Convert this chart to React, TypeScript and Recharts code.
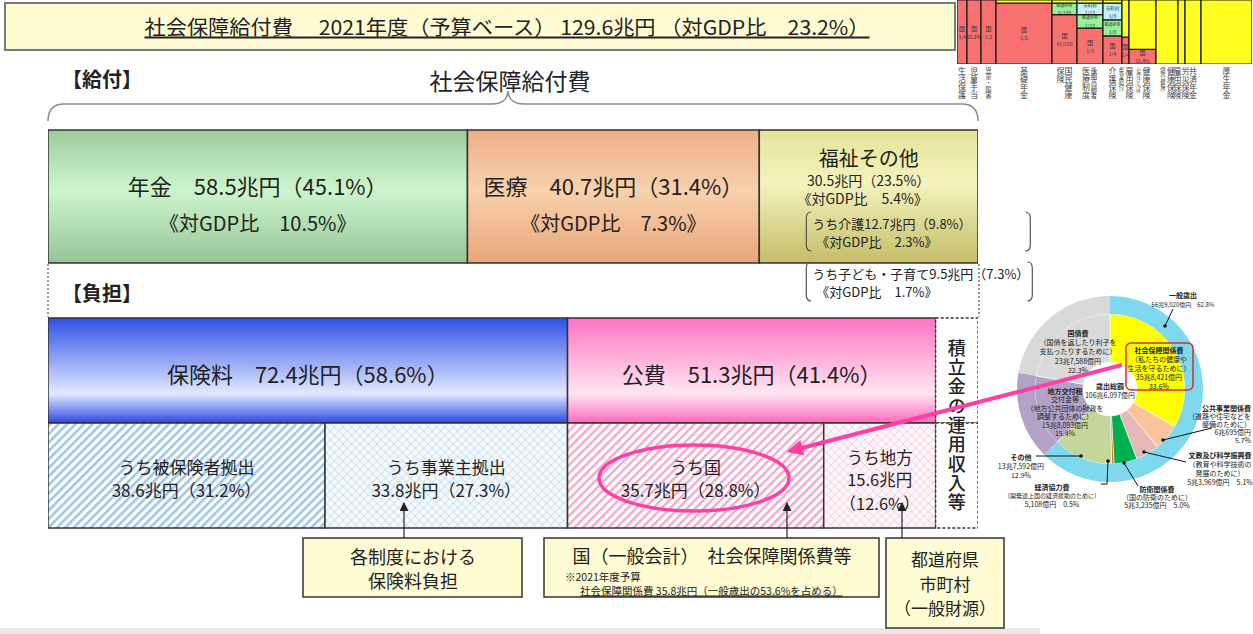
import React from 'react';
import {
  BarChart, Bar, XAxis, YAxis, LabelList, PieChart, Pie, Cell,
  ComposedChart, ReferenceArea, Line,
} from 'recharts';

const FONT = '"Noto Sans CJK JP","Noto Sans",sans-serif';

// ---------- data: benefits ----------
const benefitNames = ['年金', '医療', '福祉その他'];
const benefitValues = [58.5, 40.7, 30.5];
const benefitShares = [45.1, 31.4, 23.5];
const benefitGdp = [10.5, 7.3, 5.4];
const welfareSubNames = ['うち介護', 'うち子ども・子育て'];
const welfareSubValues = [12.7, 9.5];
const welfareSubShares = [9.8, 7.3];
const welfareSubGdp = [2.3, 1.7];

// ---------- data: burden ----------
const burdenNames = ['保険料', '公費'];
const burdenValues = [72.4, 51.3];
const burdenShares = [58.6, 41.4];
const subNames = ['うち被保険者拠出', 'うち事業主拠出', 'うち国', 'うち地方'];
const subValues = [38.6, 33.8, 35.7, 15.6];
const subShares = [31.2, 27.3, 28.8, 12.6];
const reserveName = '積立金の運用収入等';
const reserveValue = 5.9;

// ---------- data: national budget donut ----------
const budgetNames = ['社会保障関係費', '公共事業関係費', '文教及び科学振興費', '防衛関係費', '経済協力費', 'その他', '地方交付税交付金等', '国債費'];
const budgetShares = [33.6, 5.7, 5.1, 5.0, 0.5, 12.9, 15.4, 22.3];
const outerNames = ['一般歳出', '地方交付税交付金等', '国債費'];
const outerShares = [62.8, 15.4, 22.3];

// ---------- data: system fragment (top right) ----------
const fragNames = ['生活保護', '児童手当', '児童・障害', '基礎年金', '国民健康|保険', '後期高齢者|医療制度', '介護保険', '雇用保険|(失業給付)', '健康保険|(協会けんぽ)', '健康保険|(組合健保)', '労災保険|雇用保険', '共済年金', '厚生年金'];
const fragWeights = [10, 14, 15, 56, 25, 26, 19, 7, 27, 22, 7, 16, 51];
const fragNational = [1, 1, 1, 0.95, 0.77, 0.56, 0.44, 0.42, 0.23, 0, 0, 0, 0];
const fragPrefecture = [0, 0, 0, 0, 0.18, 0.21, 0.25, 0, 0, 0, 0, 0, 0];
const fragMunicipal = [0, 0, 0, 0, 0, 0.18, 0.26, 0, 0, 0, 0, 0, 0];
const fragPremium = [0, 0, 0, 0.05, 0.05, 0.05, 0.05, 0.58, 0.77, 1, 1, 1, 1];
const fragNationalText = ['3/4', '50.2%', '1/2', '1/2', '41/100', '1/3', '1/4', '1/4', '16.4%', '', '', '', ''];
const fragPrefText = ['', '', '', '', '9/100', '1/12', '1/8', '', '', '', '', '', ''];
const fragMuniText = ['', '', '', '', '', '1/12', '1/8', '', '', '', '', '', ''];

// ---------- styles ----------
const benefitFills = ['url(#gNenkin)', 'url(#gIryo)', 'url(#gFukushi)'];
const burdenFills = ['url(#gHoken)', 'url(#gKohi)'];
const subFills = ['url(#pStripeBlue)', 'url(#pCrossBlue)', 'url(#pStripePink)', 'url(#pCrossPink)'];
const budgetColors = ['#ffff00', '#f9c49a', '#e6b9b8', '#00b050', '#e46c0a', '#c4d79b', '#b3a2c7', '#d9d9d9'];
const outerColors = ['#7fd9ee', '#b3a2c7', '#d9d9d9'];

const sum = (a: number[]) => a.reduce((s, v) => s + v, 0);
const benefitTotal = sum(benefitValues);
const burdenTotal = sum(burdenValues) + reserveValue;

const benefitData = [
  Object.fromEntries([['row', '給付'], ...benefitNames.map((n, i) => [n, benefitValues[i]])]),
];
const burdenData = [
  Object.fromEntries([['row', '負担'], ...burdenNames.map((n, i) => [n, burdenValues[i]]), [reserveName, reserveValue]]),
  Object.fromEntries([['row', '内訳'], ...subNames.map((n, i) => [n, subValues[i]]), [reserveName, reserveValue]]),
];
const budgetData = budgetNames.map((n, i) => ({ name: n, value: budgetShares[i] }));
const outerData = outerNames.map((n, i) => ({ name: n, value: outerShares[i] }));

const fragStarts: number[] = [];
fragWeights.reduce((acc, w) => { fragStarts.push(acc); return acc + w; }, 0);
const fragTotal = sum(fragWeights);
const fragData = fragNames.map((n, i) => ({ x: fragStarts[i] + fragWeights[i] / 2, y: 0 }));

const box = (p: any) => {
  const vb = p && p.viewBox && p.viewBox.width !== undefined ? p.viewBox : p;
  return { x: Number(vb.x), y: Number(vb.y), w: Number(vb.width), h: Number(vb.height) };
};

const T = (props: any) => (
  <text fontFamily={FONT} fill="#222" dominantBaseline="central" textAnchor="middle" {...props} />
);

// one <text> holding several lines (tspans), first line centred at y, next lines at dy steps
const ML = ({ x, y, lines, steps, ...rest }: any) => (
  <text fontFamily={FONT} fill="#222" dominantBaseline="central" textAnchor="middle" {...rest}>
    {lines.map((ln: string, k: number) => (
      <tspan key={k} x={x} y={y + (k === 0 ? 0 : steps.slice(0, k).reduce((a: number, b: number) => a + b, 0))}>{ln}</tspan>
    ))}
  </text>
);

const bracketL = (x: number, y1: number, y2: number) =>
  `M${x + 5},${y1} Q${x},${y1} ${x},${y1 + 6} L${x},${y2 - 6} Q${x},${y2} ${x + 5},${y2}`;
const bracketR = (x: number, y1: number, y2: number) =>
  `M${x - 5},${y1} Q${x},${y1} ${x},${y1 + 6} L${x},${y2 - 6} Q${x},${y2} ${x - 5},${y2}`;

const benefitLabel = (i: number) => (p: any) => {
  const { x, y, w } = box(p);
  if (!(w > 1)) return null;
  const cx = x + w / 2;
  if (i < 2) {
    return (
      <g>
        <T x={cx} y={y + 55} fontSize={22}>{`${benefitNames[i]}　${benefitValues[i]}兆円（${benefitShares[i]}%）`}</T>
        <T x={cx} y={y + 92} fontSize={20}>{`《対GDP比　${benefitGdp[i]}%》`}</T>
      </g>
    );
  }
  const bx = x + 47;
  return (
    <g>
      <T x={cx} y={y + 27} fontSize={20}>{benefitNames[i]}</T>
      <T x={cx} y={y + 50} fontSize={14}>{`${benefitValues[i]}兆円（${benefitShares[i]}%）`}</T>
      <T x={cx - 6} y={y + 68} fontSize={14}>{`《対GDP比　${benefitGdp[i]}%》`}</T>
      {welfareSubNames.map((n, k) => {
        const y1 = y + 82 + k * 50;
        return (
          <g key={n}>
            <path d={bracketL(bx, y1, y1 + 39)} stroke="#555" strokeWidth={1.2} fill="none" />
            <path d={bracketR(x + 271 + k * 2, y1, y1 + 39)} stroke="#555" strokeWidth={1.2} fill="none" />
            <T x={bx + 6} y={y1 + 11} fontSize={13} textAnchor="start">{`${n}${welfareSubValues[k]}兆円（${welfareSubShares[k]}%）`}</T>
            <T x={bx + 10} y={y1 + 29} fontSize={13} textAnchor="start">{`《対GDP比　${welfareSubGdp[k]}%》`}</T>
          </g>
        );
      })}
    </g>
  );
};

const burdenLabel = (i: number) => (p: any) => {
  const { x, y, w, h } = box(p);
  if (!(w > 1)) return null;
  return <T x={x + w / 2} y={y + h / 2 + 2} fontSize={22}>{`${burdenNames[i]}　${burdenValues[i]}兆円（${burdenShares[i]}%）`}</T>;
};

const subLabel = (i: number) => (p: any) => {
  const { x, y, w, h } = box(p);
  if (!(w > 1)) return null;
  const cx = x + w / 2;
  const cy = y + h / 2;
  if (i < 3) {
    return (
      <ML x={cx} y={cy - 10} steps={[23]} fontSize={17}
        lines={[subNames[i], `${subValues[i]}兆円（${subShares[i]}%）`]} />
    );
  }
  return (
    <ML x={cx} y={cy - 19} steps={[22, 24]} fontSize={16.5}
      lines={[subNames[i], `${subValues[i]}兆円`, `（${subShares[i]}%）`]} />
  );
};

const reserveLabel = (p: any) => {
  const { x, y, w } = box(p);
  if (!(w > 1) || y > 60) return null;
  return (
    <text x={x + w / 2} y={y + 21} fontFamily={FONT} fill="#222" fontSize={18} fontWeight={500}
      writingMode="vertical-rl" letterSpacing={1.3} textAnchor="start">{reserveName}</text>
  );
};

const colLabel = (text: string) => (p: any) => {
  const vb = p.viewBox;
  if (!vb) return null;
  const cols = text.split('|');
  const cx = vb.x + vb.width / 2;
  const top = vb.y + vb.height + 3;
  const n = cols.length;
  return (
    <g>
      {cols.map((c, ci) => {
        const len = Array.from(c).length;
        const fs = Math.min(8, 32 / len);
        const xx = cx + ((n - 1) / 2 - ci) * 8;
        return (
          <text key={ci} x={xx} y={top} fontFamily={FONT} fill="#444" fontSize={fs}
            writingMode="vertical-rl" textAnchor="start">{c}</text>
        );
      })}
    </g>
  );
};
const cellLabel = (title: string, frac: string, size: number) => (p: any) => {
  const vb = p.viewBox;
  if (!vb || !frac) return null;
  const cx = vb.x + vb.width / 2;
  const cy = vb.y + vb.height / 2;
  return (
    <g>
      <T x={cx} y={cy - 4} fontSize={size} fill="#333">{title}</T>
      <T x={cx} y={cy + 4} fontSize={5} fill="#333">{frac}</T>
    </g>
  );
};

const pieNotes = [
  { x: 1183, y: 295, step: 9, a: 'middle', lines: ['一般歳出', '66兆9,020億円　62.8%'] },
  { x: 1078, y: 333, step: 9.2, a: 'middle', lines: ['国債費', '（国債を返したり利子を', '支払ったりするために）', '23兆7,588億円', '22.3%'] },
  { x: 1159, y: 350, step: 9, a: 'middle', lines: ['社会保障関係費', '（私たちの健康や', '生活を守るために）', '35兆8,421億円', '33.6%'] },
  { x: 1110, y: 386, step: 9, a: 'middle', lines: ['歳出総額', '106兆6,097億円'] },
  { x: 1065, y: 391, step: 8.4, a: 'middle', lines: ['地方交付税', '交付金等', '（地方公共団体の財政を', '調整するために）', '15兆8,093億円', '15.4%'] },
  { x: 1251, y: 408, step: 8, a: 'end', lines: ['公共事業関係費', '（道路や住宅などを', '整備のために）', '6兆695億円', '5.7%'] },
  { x: 1220, y: 455, step: 9, a: 'middle', lines: ['文教及び科学振興費', '（教育や科学技術の', '発展のために）', '5兆3,969億円　5.1%'] },
  { x: 1021, y: 457, step: 9, a: 'middle', lines: ['その他', '13兆7,592億円', '12.9%'] },
  { x: 1052, y: 487, step: 8.5, a: 'middle', lines: ['経済協力費', '（開発途上国の経済援助のために）', '5,108億円　0.5%'] },
  { x: 1157, y: 489, step: 8, a: 'middle', lines: ['防衛関係費', '（国の防衛のために）', '5兆3,235億円　5.0%'] },
];
const pieLeaders = [
  [[1173, 309], [1165, 326]],
  [[1212, 428], [1163, 440]],
  [[1186, 462], [1144, 452]],
  [[1138, 486], [1124, 463]],
  [[1101, 484], [1107, 484], [1108, 461]],
  [[1036, 456], [1081, 456]],
];

export default function App() {
  return (
    <div style={{ position: 'absolute', left: 0, top: 0, width: 1253, height: 634, overflow: 'hidden', background: '#fff', fontFamily: FONT }}>
      <svg width={0} height={0} style={{ position: 'absolute' }}>
        <defs>
          <linearGradient id="gNenkin" x1="0" y1="0" x2="0" y2="1">
            <stop offset="0" stopColor="#9dcc9d" />
            <stop offset="0.45" stopColor="#cdf5cd" />
            <stop offset="1" stopColor="#96c596" />
          </linearGradient>
          <linearGradient id="gIryo" x1="0" y1="0" x2="0" y2="1">
            <stop offset="0" stopColor="#ecaf86" />
            <stop offset="0.45" stopColor="#f8d1ad" />
            <stop offset="1" stopColor="#e8a67a" />
          </linearGradient>
          <linearGradient id="gFukushi" x1="0" y1="0" x2="0" y2="1">
            <stop offset="0" stopColor="#e4e496" />
            <stop offset="0.4" stopColor="#f3f3bd" />
            <stop offset="1" stopColor="#c5bd68" />
          </linearGradient>
          <linearGradient id="gHoken" x1="0" y1="0" x2="0" y2="1">
            <stop offset="0" stopColor="#2f4fe6" />
            <stop offset="0.72" stopColor="#e2eaff" />
            <stop offset="1" stopColor="#2c48e2" />
          </linearGradient>
          <linearGradient id="gKohi" x1="0" y1="0" x2="0" y2="1">
            <stop offset="0" stopColor="#ff74c2" />
            <stop offset="0.72" stopColor="#ffe6f3" />
            <stop offset="1" stopColor="#ff69ba" />
          </linearGradient>
          <pattern id="pStripeBlue" width="6" height="6" patternUnits="userSpaceOnUse" patternTransform="rotate(45)">
            <rect width="6" height="6" fill="#ffffff" />
            <rect width="2.6" height="6" fill="#9ec6e6" />
          </pattern>
          <pattern id="pCrossBlue" width="6" height="6" patternUnits="userSpaceOnUse" patternTransform="rotate(45)">
            <rect width="6" height="6" fill="#f5fafe" />
            <path d="M0,0 L6,0 M0,0 L0,6" stroke="#a6c9e5" strokeWidth="0.9" />
          </pattern>
          <pattern id="pStripePink" width="6" height="6" patternUnits="userSpaceOnUse" patternTransform="rotate(45)">
            <rect width="6" height="6" fill="#ffffff" />
            <rect width="2.4" height="6" fill="#f3a7c9" />
          </pattern>
          <pattern id="pCrossPink" width="6" height="6" patternUnits="userSpaceOnUse" patternTransform="rotate(45)">
            <rect width="6" height="6" fill="#fff7fb" />
            <path d="M0,0 L6,0 M0,0 L0,6" stroke="#efb2cb" strokeWidth="0.9" />
          </pattern>
          <marker id="arrK" viewBox="0 0 10 10" refX="9" refY="5" markerWidth="9" markerHeight="9" markerUnits="userSpaceOnUse" orient="auto">
            <path d="M0,0 L10,5 L0,10 z" fill="#222" />
          </marker>
          <marker id="arrM" viewBox="0 0 10 10" refX="8" refY="5" markerWidth="20" markerHeight="16" markerUnits="userSpaceOnUse" orient="auto">
            <path d="M0,0 L10,5 L0,10 z" fill="#ff3fa4" />
          </marker>
        </defs>
      </svg>

      {/* fragment of the system chart (top right) */}
      <div style={{ position: 'absolute', left: 957, top: 0 }}>
        <ComposedChart width={296} height={104} data={fragData} margin={{ top: 0, right: 1, bottom: 40, left: 0 }}>
          <XAxis type="number" dataKey="x" domain={[0, fragTotal]} hide allowDataOverflow />
          <YAxis type="number" domain={[0, 1]} hide allowDataOverflow />
          <Line dataKey="y" stroke="none" dot={false} isAnimationActive={false} />
          {fragNames.map((n, i) => {
            const x1 = fragStarts[i];
            const x2 = x1 + fragWeights[i];
            const segs = [
              { v: fragNational[i], c: '#f87171', t: '国', f: fragNationalText[i], s: 6 },
              { v: fragPrefecture[i], c: '#98f09a', t: '都道府県', f: fragPrefText[i], s: 4 },
              { v: fragMunicipal[i], c: '#c4f0f8', t: '市町村', f: fragMuniText[i], s: 4.5 },
              { v: fragPremium[i], c: '#ffff22', t: '', f: '', s: 4 },
            ];
            let acc = 0;
            const els: any[] = [];
            segs.forEach((sg, k) => {
              if (sg.v > 0) {
                els.push(
                  <ReferenceArea key={n + k} x1={x1} x2={x2} y1={acc} y2={acc + sg.v} fill={sg.c} fillOpacity={1}
                    stroke="#1a1a1a" strokeWidth={1.2} ifOverflow="hidden"
                    label={cellLabel(sg.t, sg.f, sg.s)} />
                );
              }
              acc += sg.v;
            });
            els.push(
              <ReferenceArea key={n + 'lbl'} x1={x1} x2={x2} y1={0} y2={1} fill="none" fillOpacity={0} stroke="none"
                ifOverflow="hidden" label={colLabel(n)} />
            );
            return els;
          })}
        </ComposedChart>
      </div>

      {/* benefits row */}
      <div style={{ position: 'absolute', left: 46, top: 120 }}>
        <BarChart width={1002} height={190} layout="vertical" data={benefitData}
          margin={{ top: 10, right: 70, bottom: 47, left: 2 }} barCategoryGap={0}>
          <XAxis type="number" domain={[0, benefitTotal]} hide allowDataOverflow />
          <YAxis type="category" dataKey="row" hide />
          {benefitNames.map((n, i) => (
            <Bar key={n} dataKey={n} stackId="b" fill={benefitFills[i]} stroke="#333" strokeWidth={1.5} isAnimationActive={false}>
              <LabelList dataKey={n} content={benefitLabel(i)} />
            </Bar>
          ))}
        </BarChart>
      </div>

      {/* burden rows */}
      <div style={{ position: 'absolute', left: 46, top: 316 }}>
        <BarChart width={934} height={214} layout="vertical" data={burdenData}
          margin={{ top: 2, right: 2, bottom: 2, left: 2 }} barCategoryGap={0}>
          <XAxis type="number" domain={[0, burdenTotal]} hide allowDataOverflow />
          <YAxis type="category" dataKey="row" hide />
          {burdenNames.map((n, i) => (
            <Bar key={n} dataKey={n} stackId="f" fill={burdenFills[i]} stroke="#333" strokeWidth={1.5} isAnimationActive={false}>
              <LabelList dataKey={n} content={burdenLabel(i)} />
            </Bar>
          ))}
          {subNames.map((n, i) => (
            <Bar key={n} dataKey={n} stackId="f" fill={subFills[i]} stroke="#333" strokeWidth={1.5} isAnimationActive={false}>
              <LabelList dataKey={n} content={subLabel(i)} />
            </Bar>
          ))}
          <Bar dataKey={reserveName} stackId="f" fill="#ffffff" stroke="#333" strokeWidth={1.3} strokeDasharray="3 2" isAnimationActive={false}>
            <LabelList dataKey={reserveName} content={reserveLabel} />
          </Bar>
        </BarChart>
      </div>

      {/* national budget donut */}
      <div style={{ position: 'absolute', left: 1000, top: 280 }}>
        <PieChart width={253} height={240} margin={{ top: 0, right: 0, bottom: 0, left: 0 }}>
          <Pie data={budgetData} dataKey="value" nameKey="name" cx={110} cy={109} innerRadius={27} outerRadius={75}
            startAngle={90} endAngle={-270} stroke="#ffffff" strokeWidth={0.6} isAnimationActive={false}>
            {budgetData.map((d, i) => <Cell key={d.name} fill={budgetColors[i]} />)}
          </Pie>
          <Pie data={outerData} dataKey="value" nameKey="name" cx={110} cy={109} innerRadius={75} outerRadius={93}
            startAngle={90} endAngle={-270} stroke="none" isAnimationActive={false}>
            {outerData.map((d, i) => <Cell key={d.name} fill={outerColors[i]} />)}
          </Pie>
        </PieChart>
      </div>

      {/* annotations */}
      <svg width={1253} height={634} style={{ position: 'absolute', left: 0, top: 0, pointerEvents: 'none' }}>
        <rect x={0} y={628} width={1040} height={6} fill="#e8e8e8" />
        {/* title */}
        <rect x={5} y={3} width={950} height={47} fill="#fffbd3" stroke="#7a7a7a" strokeWidth={2} />
        <T x={507} y={26} fontSize={20} textLength={725} lengthAdjust="spacingAndGlyphs" style={{ textDecoration: 'underline' }}>
          社会保障給付費　 2021年度（予算ベース） 129.6兆円 （対GDP比　23.2%）
        </T>
        {/* section headings */}
        <T x={62} y={78} fontSize={20} fontWeight={700} textAnchor="start">【給付】</T>
        <T x={510} y={80} fontSize={23}>社会保障給付費</T>
        <path d="M48,121 Q48,104 64,104 L492,104 Q507,104 508,91 Q509,104 524,104 L962,104 Q978,104 978,121"
          stroke="#8a8a8a" strokeWidth={1.5} fill="none" />
        <line x1={48} y1={264} x2={48} y2={317} stroke="#555" strokeWidth={1.2} strokeDasharray="2 2" />
        <line x1={979} y1={264} x2={979} y2={317} stroke="#555" strokeWidth={1.2} strokeDasharray="2 2" />
        <T x={62} y={292} fontSize={20} fontWeight={700} textAnchor="start">【負担】</T>

        {/* callout boxes */}
        <rect x={303} y={538} width={219} height={59} fill="#fffbd3" stroke="#333" strokeWidth={1.5} />
        <ML x={413} y={556} steps={[24]} fontSize={18} lines={['各制度における', '保険料負担']} />
        <line x1={404} y1={538} x2={404} y2={503} stroke="#222" strokeWidth={1.2} markerEnd="url(#arrK)" />

        <rect x={544} y={538} width={335} height={59} fill="#fffbd3" stroke="#333" strokeWidth={1.5} />
        <T x={712} y={555} fontSize={18}>国（一般会計）　社会保障関係費等</T>
        <T x={565} y={576} fontSize={10.5} textAnchor="start">※2021年度予算</T>
        <T x={580} y={590} fontSize={10.5} textAnchor="start" style={{ textDecoration: 'underline' }}>社会保障関係費 35.8兆円（一般歳出の53.6%を占める）</T>
        <line x1={787} y1={538} x2={787} y2={503} stroke="#222" strokeWidth={1.2} markerEnd="url(#arrK)" />

        <rect x={886} y={538} width={118} height={90} fill="#fffbd3" stroke="#333" strokeWidth={1.5} />
        <ML x={945} y={558} steps={[24.7, 24.7]} fontSize={17} lines={['都道府県', '市町村', '（一般財源）']} />
        <line x1={902} y1={538} x2={902} y2={503} stroke="#222" strokeWidth={1.2} markerEnd="url(#arrK)" />

        {/* donut notes */}
        {pieLeaders.map((pts, k) => (
          <g key={k}>
            <polyline points={pts.map((q) => q.join(',')).join(' ')} stroke="#111" strokeWidth={1} fill="none" />
            <circle cx={pts[pts.length - 1][0]} cy={pts[pts.length - 1][1]} r={1.8} fill="#111" />
          </g>
        ))}
        {pieNotes.map((nt, k) => (
          <g key={k}>
            {nt.lines.map((ln, j) => (
              <T key={j} x={nt.x} y={nt.y + j * nt.step} textAnchor={nt.a} fontSize={ln.length > 14 ? 6 : 7} fontWeight={j === 0 ? 700 : 400}>{ln}</T>
            ))}
          </g>
        ))}
        <rect x={1126} y={343} width={67} height={47} rx={5} fill="none" stroke="#e02828" strokeWidth={1.5} />

        {/* highlight */}
        <ellipse cx={694} cy={478} rx={95} ry={33} fill="none" stroke="#ff3fa4" strokeWidth={3.5} />
        <line x1={1122} y1={365} x2={790} y2={451} stroke="#ff3fa4" strokeWidth={4} markerEnd="url(#arrM)" />
      </svg>
    </div>
  );
}
